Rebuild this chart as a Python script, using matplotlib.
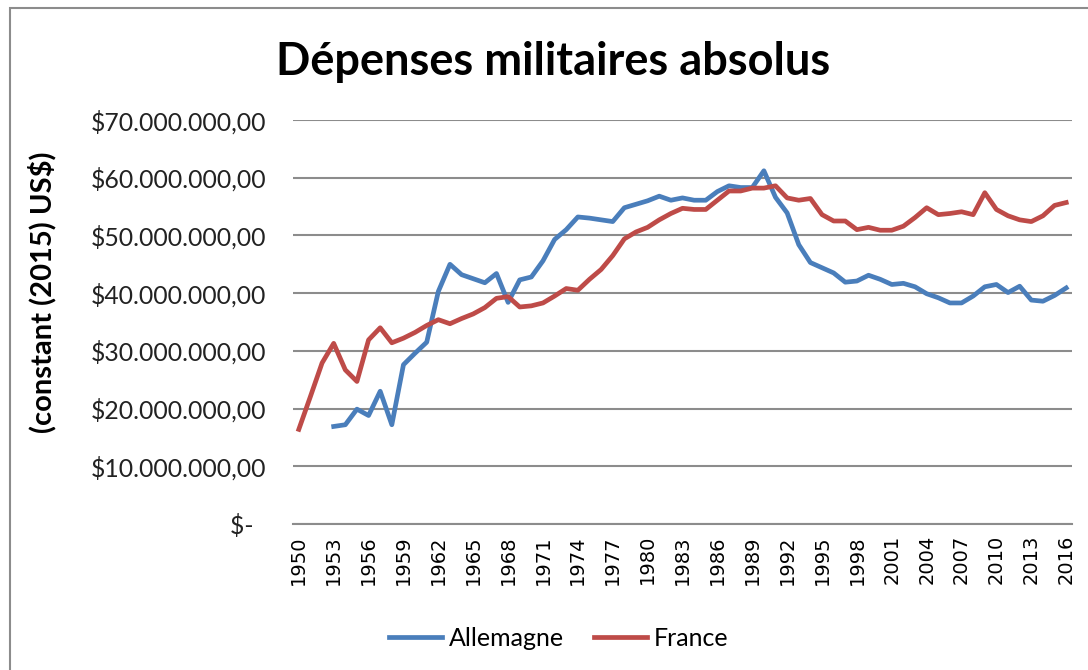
import matplotlib
matplotlib.use('Agg')
import matplotlib.pyplot as plt
from matplotlib.patches import Rectangle
from matplotlib.ticker import FuncFormatter

years = list(range(1950, 2017))

# millions de US$ constants (2015)
allemagne = [None, None, None,
             16.9, 17.2, 19.9, 18.8, 23.0, 17.2, 27.6,
             29.6, 31.5, 40.3, 45.0, 43.2, 42.5, 41.8, 43.4, 38.4, 42.3,
             42.8, 45.6, 49.3, 51.0, 53.2, 53.0, 52.7, 52.4, 54.8, 55.4,
             56.0, 56.8, 56.1, 56.5, 56.1, 56.1, 57.6, 58.6, 58.3, 58.3,
             61.2, 56.6, 53.9, 48.4, 45.3, 44.4, 43.5, 41.9, 42.1, 43.1,
             42.4, 41.5, 41.7, 41.1, 39.9, 39.2, 38.3, 38.3, 39.5, 41.1,
             41.5, 40.1, 41.2, 38.8, 38.6, 39.6, 40.9]
france = [16.4, 22.1, 27.9, 31.3, 26.7, 24.7, 31.9, 34.0, 31.4, 32.2,
          33.2, 34.4, 35.4, 34.7, 35.6, 36.4, 37.5, 39.1, 39.4, 37.6,
          37.8, 38.3, 39.5, 40.8, 40.5, 42.4, 44.1, 46.5, 49.4, 50.6,
          51.4, 52.7, 53.8, 54.7, 54.5, 54.5, 56.1, 57.7, 57.7, 58.2,
          58.2, 58.6, 56.5, 56.1, 56.4, 53.6, 52.5, 52.5, 51.0, 51.4,
          50.9, 50.9, 51.6, 53.1, 54.8, 53.6, 53.8, 54.1, 53.6, 57.4,
          54.5, 53.4, 52.7, 52.4, 53.4, 55.2, 55.7]

y_ticks = [0, 10, 20, 30, 40, 50, 60, 70]

W, H = 1088, 670
fig = plt.figure(figsize=(W / 100, H / 100), dpi=100)
fig.patches.append(Rectangle((10 / W, -0.01), 1.0, 1 - 8 / H + 0.01,
                             transform=fig.transFigure, fill=False,
                             edgecolor='#8c8c8c', linewidth=1.5))

ax = fig.add_axes([293 / W, 1 - 524 / H, (1072 - 293) / W, (524 - 120) / H])
x = list(range(len(years)))
ax.plot(x, allemagne, color='#4a7ebb', linewidth=3.4, label='Allemagne',
        solid_joinstyle='round')
ax.plot(x, france, color='#be4b48', linewidth=3.4, label='France',
        solid_joinstyle='round')

ax.set_xlim(-0.5, len(years) - 0.5)
ax.set_ylim(0, 70)
ax.set_yticks(y_ticks)


def fmt(v, pos):
    if v == 0:
        return '$-  '
    return '$%d.000.000,00' % v


ax.yaxis.set_major_formatter(FuncFormatter(fmt))
ax.set_xticks(x[::3])
ax.set_xticklabels([str(y) for y in years[::3]], rotation=90,
                   fontsize=14, family='DejaVu Sans')
for lab in ax.get_yticklabels():
    lab.set_family('Lato')
    lab.set_fontsize(17.8)
    lab.set_color('#222222')
ax.tick_params(axis='y', length=0, pad=19)
ax.tick_params(axis='x', length=0, pad=8)

ax.grid(axis='y', color='#8c8c8c', linewidth=1.5)
ax.set_axisbelow(True)
for s in ['top', 'right', 'left']:
    ax.spines[s].set_visible(False)
ax.spines['bottom'].set_color('#8c8c8c')
ax.spines['bottom'].set_linewidth(1.5)

fig.text(553 / W, 1 - 62 / H, 'Dépenses militaires absolus', ha='center',
         va='center', fontsize=32.5, fontweight='bold', family='Lato')
fig.text(42 / W, 1 - 292 / H, '(constant (2015) US$)', ha='center',
         va='center', rotation=90, fontsize=21, fontweight='bold', family='Lato')

fig.legend(loc='center', bbox_to_anchor=(559 / W, 1 - 638 / H), ncol=2,
           frameon=False, prop={'family': 'Lato', 'size': 18},
           handlelength=2.1, columnspacing=1.2, handletextpad=0.3)

fig.savefig('out.png', dpi=100)
